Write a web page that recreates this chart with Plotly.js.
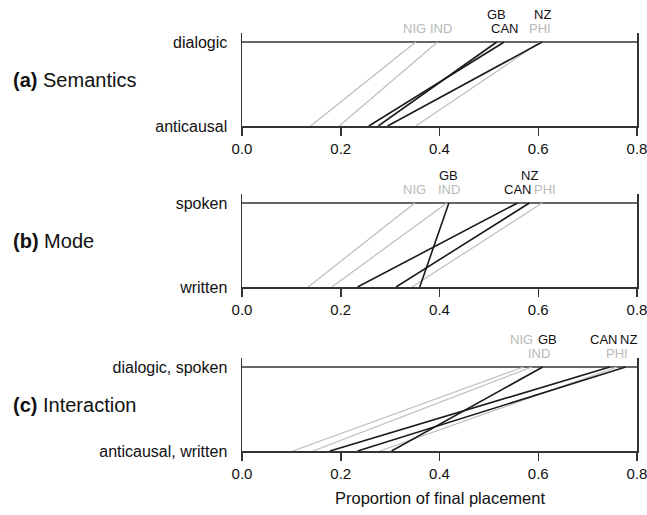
<!DOCTYPE html>
<html>
<head>
<meta charset="utf-8">
<script src="https://cdn.plot.ly/plotly-3.0.1.min.js"></script>
<style>html,body{margin:0;padding:0;background:#fff;}#chart{width:647px;height:515px;}</style>
</head>
<body>
<div id="chart"></div>
<script>
// ---- Data ----
const varieties = ["NIG", "IND", "PHI", "GB", "CAN", "NZ"];
const varietyGroup = ["grey", "grey", "grey", "black", "black", "black"];

const panelNames = ["Semantics", "Mode", "Interaction"];
const panelLetters = ["(a)", "(b)", "(c)"];
const lowLevels = ["anticausal", "written", "anticausal, written"];
const highLevels = ["dialogic", "spoken", "dialogic, spoken"];

const semanticsBottom = [0.139, 0.197, 0.352, 0.276, 0.257, 0.295];
const semanticsTop    = [0.352, 0.396, 0.604, 0.516, 0.531, 0.608];
const modeBottom      = [0.134, 0.182, 0.344, 0.360, 0.234, 0.312];
const modeTop         = [0.350, 0.415, 0.608, 0.419, 0.558, 0.582];
const interactionBottom = [0.103, 0.144, 0.279, 0.303, 0.178, 0.234];
const interactionTop    = [0.570, 0.587, 0.759, 0.609, 0.745, 0.777];

const xTickVals = [0, 0.2, 0.4, 0.6, 0.8];
const xTickText = ["0.0", "0.2", "0.4", "0.6", "0.8"];
const xTitle = "Proportion of final placement";

// ---- Layout / style configuration ----
const W = 647, H = 515;
const FONT = "Liberation Sans, Arial, Helvetica, sans-serif";
const colors = { grey: "#bebebe", black: "#1a1a1a" };
const labelColors = { grey: "#b9b9b9", black: "#111111" };
const lineWidths = { grey: 1.2, black: 1.6 };
// label row ("far" = upper row) and small horizontal nudges (px) per panel
const labelFarRow = [["GB", "NZ"], ["GB", "NZ"], ["NIG", "GB", "CAN", "NZ"]];
const labelNudge = [{ NIG: -1, IND: 3 }, { IND: 2, PHI: 3 }, { NIG: -2, GB: 5, IND: 7, CAN: -6, NZ: 3 }];

const bottomsPx = [126, 287, 451]; // pixel row of the lower level line
const levelGapPx = 84;            // distance between lower and upper line
const extraPx = 9;                // frame extends above upper line
const marginL = 242, marginR = 10;
const plotW = W - marginL - marginR;
const eps = 1e-6;

const bottoms = [semanticsBottom, modeBottom, interactionBottom];
const tops = [semanticsTop, modeTop, interactionTop];

const py2paper = (py) => 1 - py / H;
const px2paper = (px) => (px - marginL) / plotW;

const traces = [];
const annotations = [];
const shapes = [];
const layout = {
  width: W, height: H,
  margin: { l: marginL, r: marginR, t: 0, b: 0, pad: 0 },
  paper_bgcolor: "#fff", plot_bgcolor: "#fff",
  showlegend: false,
  font: { family: FONT, color: "#111" },
  annotations: annotations,
  shapes: shapes
};

for (let p = 0; p < 3; p++) {
  const sfx = p === 0 ? "" : String(p + 1);
  const xa = "x" + sfx, ya = "y" + sfx;
  const bPx = bottomsPx[p];
  const topPx = bPx - levelGapPx - extraPx;
  const yMax = (levelGapPx + extraPx) / levelGapPx;

  layout["xaxis" + sfx] = {
    domain: [0, 1], anchor: ya, range: [-eps, 0.8 + eps],
    showgrid: false, zeroline: false,
    showline: true, linecolor: "#333", linewidth: 1.5,
    ticks: "outside", ticklen: 8, tickwidth: 1.5, tickcolor: "#333",
    tickvals: xTickVals, ticktext: xTickText,
    tickfont: { family: FONT, size: 15, color: "#111" },
    ticklabeloverflow: "allow",
    fixedrange: true
  };
  layout["yaxis" + sfx] = {
    domain: [py2paper(bPx), py2paper(topPx)], anchor: xa,
    range: [0, yMax],
    showgrid: false, zeroline: false,
    showline: true, mirror: true, linecolor: "#333", linewidth: 1.5,
    ticks: "", tickvals: [0, 1], ticktext: [lowLevels[p], highLevels[p]],
    tickfont: { family: FONT, size: 16, color: "#111" },
    ticklabelstandoff: 10,
    fixedrange: true
  };

  // upper level line
  shapes.push({
    type: "line", xref: xa, yref: ya, x0: 0, x1: 0.8, y0: 1, y1: 1,
    line: { color: "#333", width: 1.5 }, layer: "below"
  });

  for (let i = 0; i < varieties.length; i++) {
    const g = varietyGroup[i];
    traces.push({
      type: "scatter", mode: "lines",
      x: [bottoms[p][i], tops[p][i]], y: [0, 1],
      xaxis: xa, yaxis: ya,
      line: { color: colors[g], width: lineWidths[g] },
      hoverinfo: "skip", cliponaxis: false
    });
    const far = labelFarRow[p].indexOf(varieties[i]) >= 0;
    annotations.push({
      xref: xa, yref: ya, x: tops[p][i], y: 1,
      yshift: far ? 27.5 : 13.5, xshift: labelNudge[p][varieties[i]] || 0,
      xanchor: "center", yanchor: "middle",
      text: varieties[i], showarrow: false,
      font: { family: FONT, size: 13, color: labelColors[g] }
    });
  }

  // panel title
  annotations.push({
    xref: "paper", yref: "paper",
    x: px2paper(11), y: py2paper(bPx - levelGapPx / 2 - 4),
    xanchor: "left", yanchor: "middle",
    text: "<b>" + panelLetters[p] + "</b> " + panelNames[p],
    showarrow: false, font: { family: FONT, size: 20, color: "#111" }
  });
}

// x axis title
annotations.push({
  xref: "paper", yref: "paper", x: 0.5, y: py2paper(498),
  xanchor: "center", yanchor: "middle",
  text: xTitle, showarrow: false,
  font: { family: FONT, size: 16.5, color: "#111" }
});

Plotly.newPlot("chart", traces, layout, { staticPlot: true, displayModeBar: false });
</script>
</body>
</html>
